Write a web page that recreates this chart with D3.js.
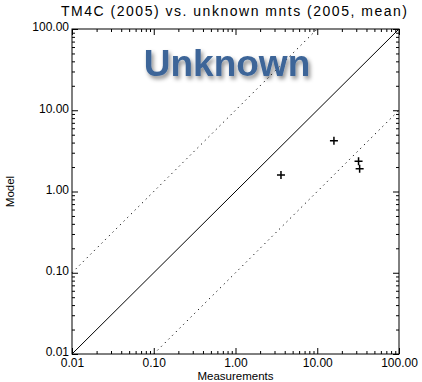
<!DOCTYPE html>
<html>
<head>
<meta charset="utf-8">
<script src="https://cdn.jsdelivr.net/npm/d3@7"></script>
<style>
  body { margin: 0; background: #fff; }
  text { font-family: "Liberation Sans", Arial, sans-serif; }
</style>
</head>
<body>
<div id="chart"></div>
<script>
// data
var measurements = [3.6, 16, 32, 33];
var model = [1.6, 4.2, 2.35, 1.9];
var tickValues = [0.01, 0.1, 1, 10, 100];
var tickLabels = ["0.01", "0.10", "1.00", "10.00", "100.00"];
var ratioLines = [1, 10, 0.1];

var W = 422, H = 382;
var margin = {top: 29, right: 23, bottom: 28, left: 72};
var width = W - margin.left - margin.right;
var height = H - margin.top - margin.bottom;

var svg = d3.select("#chart").append("svg")
  .attr("width", W).attr("height", H);

var defs = svg.append("defs");
var f = defs.append("filter").attr("id", "shadow")
  .attr("x", "-10%").attr("y", "-20%").attr("width", "130%").attr("height", "160%");
f.append("feDropShadow").attr("dx", 2).attr("dy", 3).attr("stdDeviation", 2)
  .attr("flood-color", "#000").attr("flood-opacity", 0.45);

var g = svg.append("g").attr("transform", "translate(" + margin.left + "," + margin.top + ")");

var x = d3.scaleLog().domain([0.01, 100]).range([0, width]);
var y = d3.scaleLog().domain([0.01, 100]).range([height, 0]);

// minor ticks 2..9 for each decade
var minor = [];
for (var e = -2; e < 2; e++) {
  for (var m = 2; m <= 9; m++) minor.push(m * Math.pow(10, e));
}

function tickAxis(axis, scale, len) {
  return axis(scale).tickValues(minor).tickSize(len).tickFormat("");
}

// bottom
g.append("g").attr("transform", "translate(0," + height + ")")
  .call(d3.axisBottom(x).tickValues(tickValues).tickSize(-6).tickPadding(4)
    .tickFormat(function(d, i) { return tickLabels[i]; }))
  .call(function(a) { a.selectAll("text").attr("font-size", 12).attr("fill", "#000"); });
g.append("g").attr("transform", "translate(0," + height + ")")
  .call(tickAxis(d3.axisBottom, x, -3));
// top
g.append("g").call(d3.axisTop(x).tickValues(tickValues).tickSize(-6).tickFormat(""));
g.append("g").call(tickAxis(d3.axisTop, x, -3));
// left
g.append("g")
  .call(d3.axisLeft(y).tickValues(tickValues).tickSize(-6).tickPadding(3)
    .tickFormat(function(d, i) { return tickLabels[i]; }))
  .call(function(a) {
    a.selectAll("text").attr("font-size", 12).attr("fill", "#000").attr("dy", "0.15em");
  });
g.append("g").call(tickAxis(d3.axisLeft, y, -3));
// right
g.append("g").attr("transform", "translate(" + width + ",0)")
  .call(d3.axisRight(y).tickValues(tickValues).tickSize(-6).tickFormat(""));
g.append("g").attr("transform", "translate(" + width + ",0)")
  .call(tickAxis(d3.axisRight, y, -3));

g.selectAll(".domain").remove();
g.selectAll(".tick line").attr("stroke", "#000");

g.append("rect").attr("width", width).attr("height", height)
  .attr("fill", "none").attr("stroke", "#000").attr("stroke-width", 1);

// 1:1 and factor 10 lines, clipped to the domain
ratioLines.forEach(function(r) {
  var x0 = Math.max(0.01, 0.01 / r), x1 = Math.min(100, 100 / r);
  g.append("line")
    .attr("x1", x(x0)).attr("y1", y(x0 * r))
    .attr("x2", x(x1)).attr("y2", y(x1 * r))
    .attr("stroke", "#000").attr("stroke-width", 1)
    .attr("stroke-dasharray", r === 1 ? null : "1.2,4");
});

// plus markers
g.selectAll(".pt").data(measurements).enter().append("path")
  .attr("class", "pt")
  .attr("d", function(d, i) {
    var cx = x(d), cy = y(model[i]), s = 4;
    return "M" + (cx - s) + "," + cy + "H" + (cx + s) + "M" + cx + "," + (cy - s) + "V" + (cy + s);
  })
  .attr("stroke", "#000").attr("stroke-width", 1.5);

// title and axis labels
svg.append("text").attr("x", 234).attr("y", 16).attr("text-anchor", "middle")
  .attr("font-size", 14).attr("textLength", 346).attr("lengthAdjust", "spacing")
  .text("TM4C (2005) vs. unknown mnts (2005, mean)");
svg.append("text").attr("x", margin.left + width / 2).attr("y", 380).attr("text-anchor", "middle")
  .attr("font-size", 11.5).text("Measurements");
svg.append("text").attr("transform", "translate(14," + (margin.top + height / 2) + ") rotate(-90)")
  .attr("text-anchor", "middle").attr("font-size", 11.5).text("Model");

// watermark
svg.append("text").attr("x", 227).attr("y", 76).attr("text-anchor", "middle")
  .attr("font-family", "'Open Sans', sans-serif").attr("font-size", 37)
  .attr("font-weight", 600)
  .attr("fill", "#3c6598").attr("filter", "url(#shadow)")
  .text("Unknown");
</script>
</body>
</html>
